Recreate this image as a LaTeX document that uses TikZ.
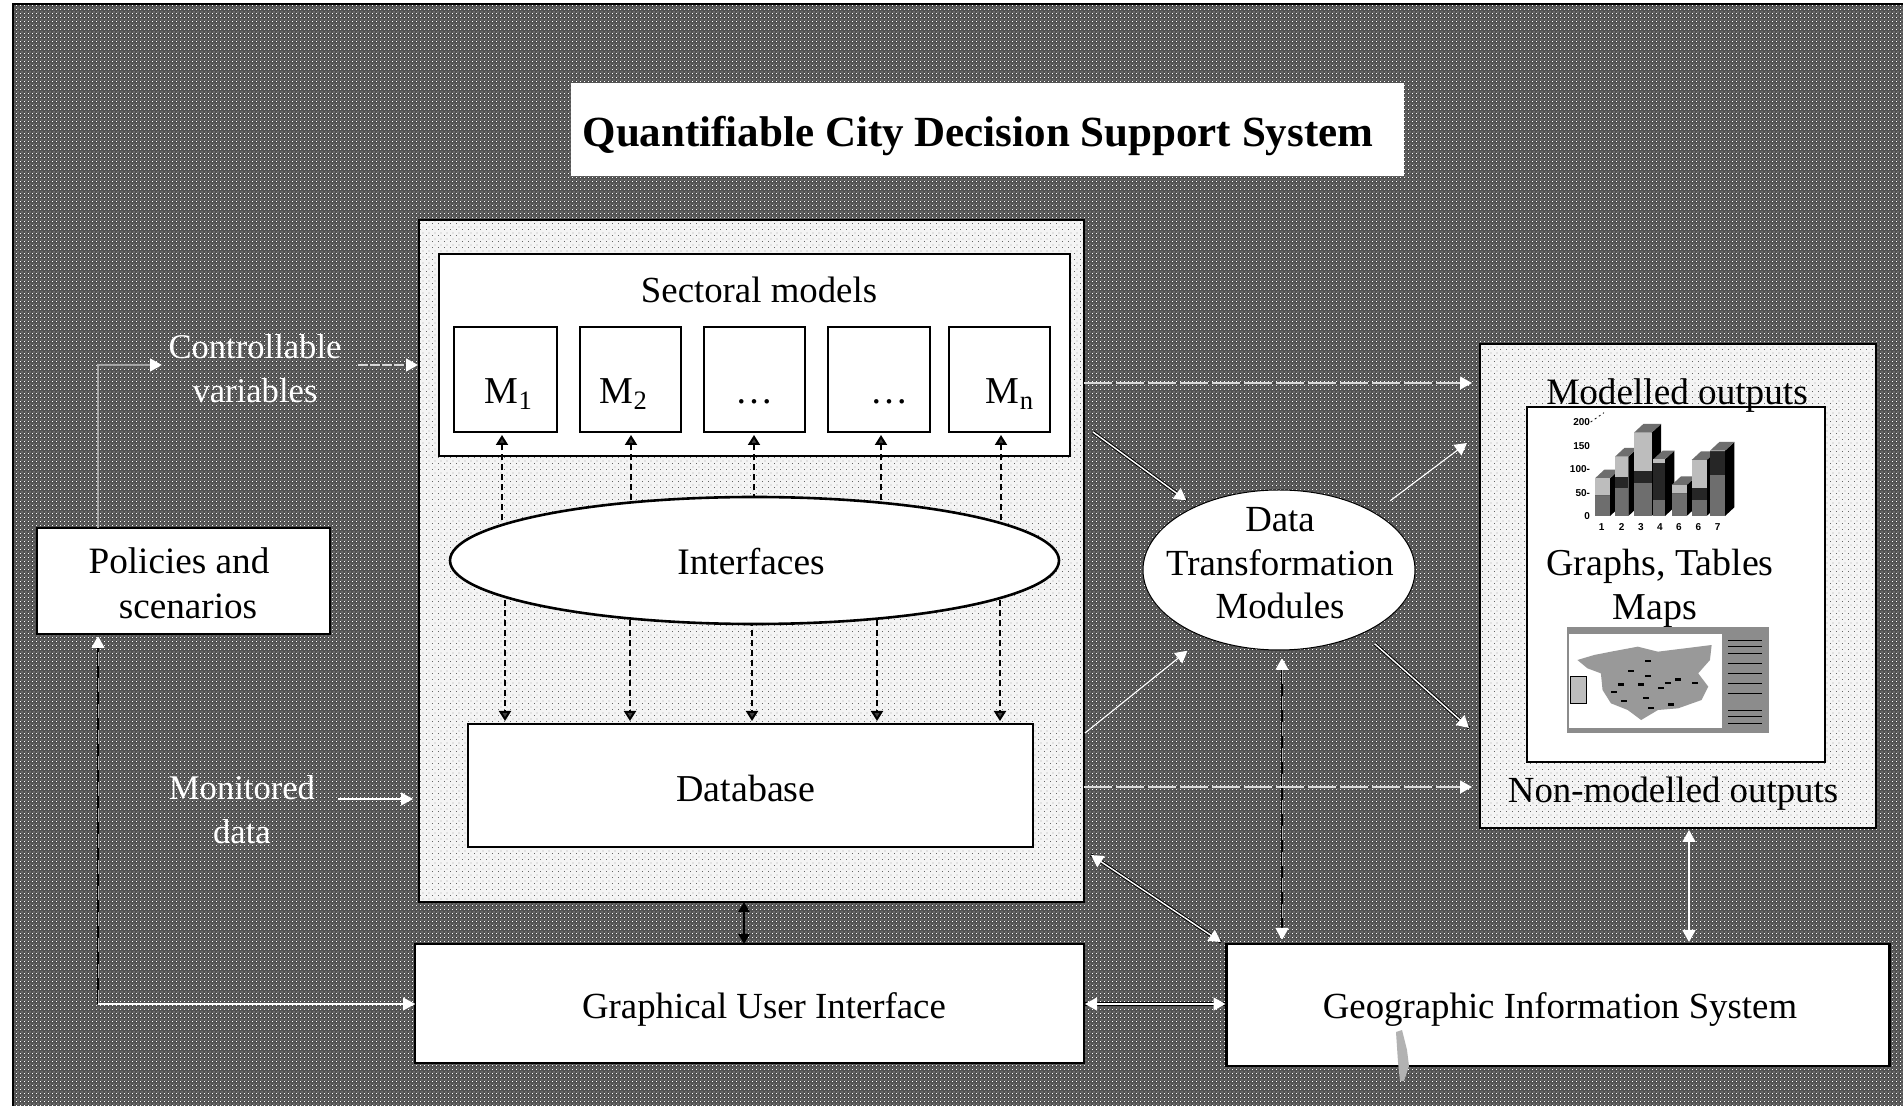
\documentclass[tikz,border=0pt]{standalone}
\usepackage{fontspec}
\setmainfont{Liberation Serif}
\newfontfamily\chartfont{Liberation Sans}
\usetikzlibrary{shapes.geometric,arrows.meta,patterns,calc}
\pgfdeclarelayer{backlayer}
\pgfdeclarelayer{connlayer}
\pgfsetlayers{backlayer,connlayer,main}
\pgfdeclarepatternformonly{fdots}{\pgfpointorigin}{\pgfqpoint{3pt}{3pt}}{\pgfqpoint{3pt}{3pt}}{%
  \pgfpathrectangle{\pgfqpoint{0pt}{0pt}}{\pgfqpoint{.5pt}{.5pt}}%
  \pgfpathrectangle{\pgfqpoint{1.5pt}{1.5pt}}{\pgfqpoint{.5pt}{.5pt}}%
  \pgfusepath{fill}}
\pgfdeclarepatternformonly{ddots}{\pgfpointorigin}{\pgfqpoint{2pt}{2pt}}{\pgfqpoint{2pt}{2pt}}{%
  \pgfpathrectangle{\pgfqpoint{0pt}{0pt}}{\pgfqpoint{.5pt}{.5pt}}%
  \pgfpathrectangle{\pgfqpoint{1pt}{1pt}}{\pgfqpoint{.5pt}{.5pt}}%
  \pgfusepath{fill}}
\definecolor{bgdark}{HTML}{525252}
\definecolor{panelgray}{HTML}{F4F4F4}
\definecolor{barlight}{HTML}{BDBDBD}
\definecolor{barmid}{HTML}{6E6E6E}
\definecolor{bardark}{HTML}{262626}
\newcommand{\chartbar}[6]{% left, right, ymid-low, ymid-high, ylight-top, light colour
  \fill[black] (#2,318) -- (#2+28,292) -- (#2+28,#5-26) -- (#2,#5) -- cycle;
  \fill[barmid] (#1,#5) -- (#1+28,#5-26) -- (#2+28,#5-26) -- (#2,#5) -- cycle;
  \fill[barmid] (#1,318) rectangle (#2,#3);
  \fill[bardark] (#1,#3) rectangle (#2,#4);
  \fill[#6] (#1,#4) rectangle (#2,#5);
}
\tikzset{
  x=0.5pt,y=-0.5pt,
  panel/.style={rectangle,inner sep=0pt,outer sep=0pt,draw=black,line width=.8pt,pattern=fdots,pattern color=black!60,preaction={fill=panelgray}},
  whitebox/.style={rectangle,inner sep=0pt,outer sep=0pt,draw=black,line width=1.3pt,fill=white},
  whiteoval/.style={ellipse,inner sep=0pt,outer sep=0pt,fill=white,draw=black,line width=.5pt},
  txt/.style={inner sep=0pt,outer sep=0pt,font=\fontsize{18.4}{22.5}\selectfont,anchor=base,align=center},
  bigtxt/.style={txt,font=\fontsize{19}{22.5}\selectfont},
  lighttxt/.style={txt,text=white,font=\fontsize{17.3}{22}\selectfont},
  chartlabel/.style={inner sep=0pt,outer sep=0pt,font=\chartfont\bfseries\fontsize{5}{6}\selectfont},
  wtip/.tip={Triangle[length=6pt,width=6.5pt,fill=white,color=white]},
  btip/.tip={Triangle[length=5pt,width=5.5pt,fill=black,color=black]},
  dtip/.tip={Triangle[length=5pt,width=6pt,fill=black!75,color=black]},
  whiteline/.style={draw=white,line width=.7pt,preaction={draw=black,line width=1.7pt,-}},
  thinwhite/.style={draw=white,line width=.6pt,preaction={draw=black!70,line width=1.1pt,-}},
  flowline/.style={draw=white!85!black,line width=.6pt,dash pattern=on 14pt off 2pt,preaction={draw=black!70,solid,line width=.9pt,-}},
  greyline/.style={draw=black!35,line width=.6pt,preaction={draw=black!80,line width=1.2pt,-}},
  darkline/.style={draw=black!35,line width=.5pt,dash pattern=on 7pt off 6pt,preaction={draw=black,solid,line width=1.1pt,-}},
  modeldash/.style={draw=black,line width=1pt,dash pattern=on 3pt off 2pt},
}
\begin{document}
\begin{tikzpicture}
\useasboundingbox (0,0) rectangle (1903,1106);
\begin{pgfonlayer}{backlayer}
\fill[white] (0,0) rectangle (1903,1106);
\fill[bgdark] (13,4) rectangle (1903,1106);
\fill[pattern=ddots,pattern color=white] (13,4) rectangle (1903,1106);
\draw[black,line width=1pt] (13,1106) -- (13,4) -- (1903,4);

% panels
\node[panel,minimum width=332.5pt,minimum height=341pt] (main) at (751.5,561) {};
\node[panel,minimum width=198pt,minimum height=242pt] (out) at (1678,586) {};

% boxes crossed by the dashed connectors
\node[whitebox,minimum width=315.5pt,minimum height=101pt] (sect) at (754.5,355) {};
\node[whitebox,minimum width=51.5pt,minimum height=52.5pt] (m1) at (505.5,379.5) {};
\node[whitebox,minimum width=50.5pt,minimum height=52.5pt] (m2) at (630.5,379.5) {};
\node[whitebox,minimum width=50.5pt,minimum height=52.5pt] (m3) at (754.5,379.5) {};
\node[whitebox,minimum width=51pt,minimum height=52.5pt] (m4) at (879,379.5) {};
\node[whitebox,minimum width=50.5pt,minimum height=52.5pt] (m5) at (999.5,379.5) {};
\node[whitebox,minimum width=282.5pt,minimum height=61.5pt] (db) at (750.5,785.5) {};
\end{pgfonlayer}

\node[whitebox,draw=white,line width=.8pt,minimum width=415.5pt,minimum height=45.5pt] (title) at (987.5,129.5) {};
\node[txt,font=\bfseries\fontsize{21.5}{24}\selectfont] (titletext) at (978,147) {Quantifiable City Decision Support System};
\node[txt] (secttext) at (759,303) {Sectoral models};
\node[bigtxt] (m1t) at (509,404) {M\textsubscript{1}};
\node[bigtxt] (m2t) at (624,404) {M\textsubscript{2}};
\node[bigtxt] (m3t) at (754,404) {\dots};
\node[bigtxt] (m4t) at (889,404) {\dots};
\node[bigtxt] (m5t) at (1010,404) {M\textsubscript{n}};
\node[whitebox,shape=ellipse,minimum width=304.5pt,minimum height=63.5pt] (inter) at (754.5,560.5) {};
\node[bigtxt,font=\fontsize{18.7}{22.5}\selectfont] (intert) at (751,575) {Interfaces};
\node[bigtxt] (dbt) at (746,802) {Database};
\node[whitebox,minimum width=334.5pt,minimum height=59.5pt] (gui) at (749.5,1003.5) {};
\node[txt] (guit) at (764,1019) {Graphical User Interface};
\node[whitebox,minimum width=331.5pt,minimum height=61pt] (gis) at (1558,1005) {};
\node[txt] (gist) at (1560,1019) {Geographic Information System};
\node[whitebox,minimum width=146.5pt,minimum height=53pt] (pol) at (183.5,581) {};
\node[txt,font=\fontsize{18.6}{22.5}\selectfont] (polt) at (179,619) {Policies and\\\hspace*{9pt}scenarios};
\node[whiteoval,minimum width=136pt,minimum height=80pt] (dtm) at (1279,570) {};
\node[txt,font=\fontsize{18.4}{21.75}\selectfont] (dtmt) at (1280,619) {Data\\Transformation\\Modules};
\node[whitebox,minimum width=149pt,minimum height=177.5pt] (inner) at (1676,584.5) {};
\node[txt,font=\fontsize{18.6}{22.5}\selectfont] (modt) at (1677,405) {Modelled outputs};
\node[txt] (nont) at (1673,803) {Non-modelled outputs};
\node[bigtxt] (grt) at (1660,576) {Graphs, Tables};
\node[bigtxt] (mapt) at (1655,620) {Maps};
\node[lighttxt] (ctrl) at (255,403) {Controllable\\variables};
\node[lighttxt] (mon) at (242,844) {Monitored\\data};

% sectoral connectors, under the Interfaces ellipse
\begin{pgfonlayer}{connlayer}
\foreach \ux/\dx in {502/505,631/630,754/752,881/877,1001/1000}{
  \coordinate (upx) at (\ux,0);
  \coordinate (dnx) at (\dx,0);
  \draw[modeldash,-{dtip}] (upx |- inter.center) -- ([yshift=-1.5pt]upx |- m1.south);
  \draw[modeldash,-{dtip}] (dnx |- inter.center) -- ([yshift=1.5pt]dnx |- db.north);
}
\end{pgfonlayer}

% left side
\coordinate (leftx) at (98,0);
\coordinate (ctrlIn) at (162,365);
\coordinate (ctrlOut) at (358,365);
\coordinate (monOut) at (338,799);
\coordinate (guiY) at (0,1004);
\draw[greyline,-{wtip}] (leftx |- pol.north) |- (ctrlIn);
\draw[thinwhite,-{wtip},draw=white!85!black,dash pattern=on 5pt off 1pt] (ctrlOut) -- ([xshift=-.5pt]ctrlOut -| main.west);
\draw[thinwhite,-{wtip}] (monOut) -- ([xshift=-3pt]monOut -| main.west);
\draw[darkline,-{wtip}] (leftx |- guiY) -- ([yshift=-1pt]leftx |- pol.south);
\draw[thinwhite,-{wtip}] (leftx |- guiY) -- (guiY -| gui.west);

% centre-bottom
\coordinate (guiX) at (744,0);
\draw[black,line width=1.4pt,{btip}-{btip}] (guiX |- main.south) -- (guiX |- gui.north);
\draw[whiteline,{wtip}-{wtip}] ([xshift=.5pt]gui.east |- guiY) -- ([xshift=-.5pt]gis.west |- guiY);
\coordinate (dgA) at (1091,855);
\coordinate (dgB) at (1221,942);
\draw[whiteline,{wtip}-{wtip}] (dgA) -- (dgB);
\coordinate (vX) at (1282,0);
\draw[darkline,{wtip}-{wtip},shorten <=4pt,shorten >=2pt] (vX |- dtm.south) -- (vX |- gis.north);
\coordinate (v2X) at (1689,0);
\draw[thinwhite,{wtip}-{wtip},shorten <=1pt,shorten >=1pt] (v2X |- out.south) -- (v2X |- gis.north);

% to outputs
\coordinate (modY) at (0,383);
\coordinate (nonY) at (0,787);
\draw[flowline,-{wtip},shorten >=4pt] (main.east |- modY) -- (out.west |- modY);
\draw[flowline,-{wtip},shorten >=4pt] (main.east |- nonY) -- (out.west |- nonY);
\coordinate (a1) at (1093,432);
\coordinate (a2) at (1085,733);
\coordinate (a3) at (1467,443);
\coordinate (a4) at (1469,728);
\draw[whiteline,-{wtip},shorten >=5.5pt] (a1) -- (dtm.143);
\draw[thinwhite,-{wtip},shorten >=11pt] (a2) -- (dtm.222);
\draw[thinwhite,-{wtip},shorten <=10pt] (dtm.31) -- (a3);
\draw[whiteline,-{wtip},shorten <=8pt] (dtm.-37) -- (a4);

% bar chart
\begin{scope}[shift={(1540,410)},x=0.16667pt,y=-0.16667pt]
  \chartbar{165}{210}{255}{255}{205}{barlight}
  \chartbar{225}{265}{235}{200}{140}{barlight}
  \chartbar{282}{335}{220}{183}{68}{barlight}
  \chartbar{340}{375}{270}{160}{148}{barlight}
  \chartbar{395}{440}{250}{250}{225}{barlight}
  \chartbar{455}{500}{270}{235}{150}{barlight}
  \chartbar{510}{555}{195}{122}{122}{barlight}
  \draw[black,line width=.4pt,dash pattern=on 1pt off 1.5pt] (152,36) -- (192,8);
  \node[chartlabel,anchor=east] (c200) at (150,35) {200};
  \node[chartlabel,anchor=east] (c150) at (150,108) {150};
  \node[chartlabel,anchor=east] (c100) at (150,178) {100-};
  \node[chartlabel,anchor=east] (c50) at (150,248) {50-};
  \node[chartlabel,anchor=east] (c0) at (150,318) {0};
  \node[chartlabel] (x1) at (185,350) {1};
  \node[chartlabel] (x2) at (245,350) {2};
  \node[chartlabel] (x3) at (303,350) {3};
  \node[chartlabel] (x4) at (360,350) {4};
  \node[chartlabel] (x5) at (417,350) {6};
  \node[chartlabel] (x6) at (475,350) {6};
  \node[chartlabel] (x7) at (533,350) {7};
\end{scope}

% map screenshot
\begin{scope}[shift={(1470,340)},x=0.1678pt,y=-0.16667pt]
  \fill[black!45] (290,860) rectangle (890,1180);
  \fill[white] (295,882) rectangle (750,1163);
  \fill[barlight] (298,1010) rectangle (348,1090);
  \draw[black,line width=.4pt] (298,1010) rectangle (348,1090);
  \foreach \yy in {900,920,940,970,1000,1030,1060,1110,1130,1150}{
    \draw[black,line width=.5pt] (770,\yy) -- (870,\yy);
  }
  \fill[black!40] (320,960) -- (370,945) -- (420,935) -- (500,920) -- (560,935) -- (640,925) -- (720,915) -- (715,960) -- (680,1000) -- (710,1040) -- (690,1080) -- (620,1105) -- (560,1110) -- (510,1140) -- (470,1110) -- (420,1090) -- (395,1050) -- (390,1000) -- (350,985) -- cycle;
  \foreach \mx/\my in {520/960,470/990,520/1005,440/1030,500/1030,580/1025,560/1040,660/1025,420/1052,515/1070,590/1090,530/1100,450/1080,610/1015}{
    \fill[black] (\mx,\my) rectangle (\mx+18,\my+7);
  }
\end{scope}

% scan blemish
\fill[black!30] (1396,1032) -- (1402,1030) -- (1407,1050) -- (1409,1066) -- (1404,1081) -- (1400,1081) -- (1398,1062) -- cycle;
\end{tikzpicture}
\end{document}
